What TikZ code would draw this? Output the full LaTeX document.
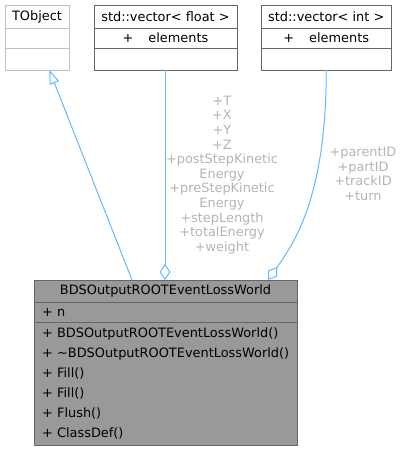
\documentclass[tikz,border=0pt]{standalone}
\usepackage{fontspec}
\setmainfont{DejaVu Sans}
\usetikzlibrary{arrows.meta,positioning}
\definecolor{edgeblue}{HTML}{63B8FF}
\definecolor{boxgrey}{HTML}{666666}
\definecolor{paleline}{HTML}{BFBFBF}
\definecolor{mainfill}{HTML}{999999}
\definecolor{labelgrey}{HTML}{B4B4B4}

\begin{document}
\begin{tikzpicture}[x=1pt, y=-1pt,
      cls/.style={rectangle, draw=boxgrey, fill=white, line width=1pt, outer sep=0pt,
                  inner sep=0pt, font=\fontsize{12.9}{14.6}\selectfont},
      clspale/.style={cls, draw=paleline},
      clsmain/.style={cls, fill=mainfill, text width=253pt, inner xsep=5pt, align=left},
      elabel/.style={align=center, text=labelgrey, inner sep=0pt,
                     font=\fontsize{12.9}{14.6}\selectfont},
      inherit/.style={draw=edgeblue, line width=1pt, -{Triangle[open, length=14pt, width=10pt]}},
      usage/.style={draw=edgeblue, line width=1pt, -{Diamond[open, length=16pt, width=11pt]}}]

    \useasboundingbox (0,0) rectangle (403,451);

    % base class
    \node[clspale, minimum width=64pt, minimum height=23pt] (tobj) at (37,16.5) {TObject};
    \node[clspale, minimum width=64pt, minimum height=20pt, below=0pt of tobj] (tobjattr) {};
    \node[clspale, minimum width=64pt, minimum height=22pt, below=0pt of tobjattr] (tobjmeth) {};

    % vector< float >
    \node[cls, minimum width=143pt, minimum height=23pt] (vfloat) at (165.5,16.5) {std::vector< float >};
    \node[cls, minimum width=143pt, minimum height=20pt, below=0pt of vfloat] (vfloatattr) {+\hspace{15pt}elements};
    \node[cls, minimum width=143pt, minimum height=22pt, below=0pt of vfloatattr] (vfloatmeth) {};

    % vector< int >
    \node[cls, minimum width=130.5pt, minimum height=23pt] (vint) at (326.25,16.5) {std::vector< int >};
    \node[cls, minimum width=130.5pt, minimum height=20pt, below=0pt of vint] (vintattr) {+\hspace{15pt}elements};
    \node[cls, minimum width=130.5pt, minimum height=22pt, below=0pt of vintattr] (vintmeth) {};

    % the class itself
    \node[cls, fill=mainfill, minimum width=263pt, minimum height=22pt] (main) at (165.5,291) {BDSOutputROOTEventLossWorld};
    \node[clsmain, minimum height=20pt, below=0pt of main] (mainattr) {\hspace{3pt}+ n};
    \node[clsmain, minimum height=123pt, below=0pt of mainattr,
          font=\fontsize{12.9}{19.9}\selectfont] (mainmeth)
         {\hspace{3pt}+ BDSOutputROOTEventLossWorld()\\\hspace{3pt}+ \mbox{\textasciitilde BDSOutputROOTEventLossWorld()}\\\hspace{3pt}+ Fill()\\\hspace{3pt}+ Fill()\\\hspace{3pt}+ Flush()\\\hspace{3pt}+ ClassDef()};

    % member labels
    \node[elabel] (vfloatlbl) at (222,175) {+T\\+X\\+Y\\+Z\\+postStepKinetic\\Energy\\+preStepKinetic\\Energy\\+stepLength\\+totalEnergy\\+weight};
    \node[elabel] (vintlbl) at (363,174) {+parentID\\+partID\\+trackID\\+turn};

    \draw[inherit] ([xshift=-33.5pt]main.north) -- ([xshift=12.3pt]tobjmeth.south);
    \draw[usage] ([xshift=-0.5pt]vfloatmeth.south) -- ([xshift=-0.5pt]main.north);
    \draw[usage] (vintmeth.south) .. controls +(0,120) and +(30,-42) .. ([xshift=102.5pt]main.north);
  \end{tikzpicture}
\end{document}
